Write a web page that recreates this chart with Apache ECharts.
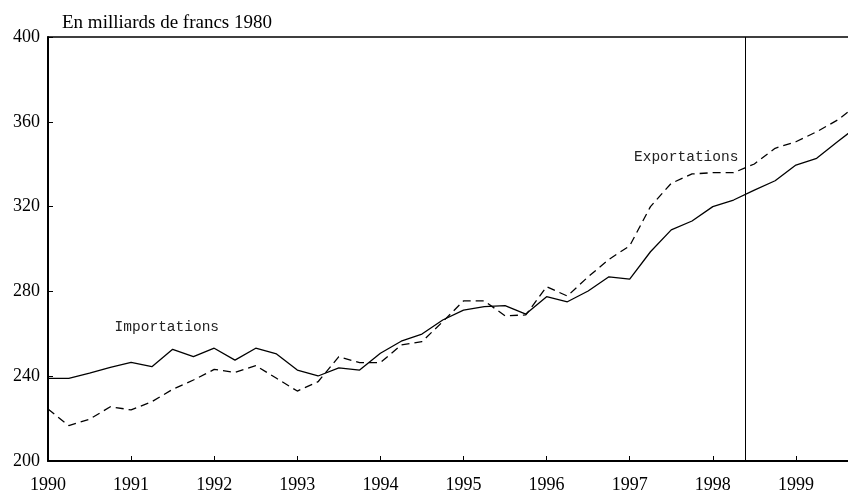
<!DOCTYPE html>
<html>
<head>
<meta charset="utf-8">
<script src="https://cdn.jsdelivr.net/npm/echarts@6/dist/echarts.min.js"></script>
<style>
html,body{margin:0;padding:0;background:#fff;}
#chart{width:848px;height:495px;}
</style>
</head>
<body>
<div id="chart"></div>
<script>
// Quarterly series, first quarter 1990 onward
var startYear = 1990;
var importations = [239.0, 239.0, 241.4, 244.2, 246.5, 244.5, 252.7, 249.2, 253.2, 247.6,
  253.2, 250.5, 242.9, 240.1, 243.9, 242.9, 250.8, 256.5, 259.9, 266.5,
  271.2, 272.8, 273.3, 269.3, 277.5, 275.1, 280.2, 286.9, 285.8, 298.7,
  309.0, 313.2, 320.0, 323.1, 327.8, 332.2, 339.6, 342.8, 350.6, 358.1];
var exportations = [224.5, 216.7, 219.7, 225.6, 224.1, 228.0, 233.8, 238.2, 243.2, 241.8,
  245.0, 239.0, 233.0, 237.4, 249.2, 246.4, 246.4, 254.7, 256.3, 265.7,
  275.5, 275.5, 268.5, 268.9, 282.2, 277.8, 286.9, 295.1, 301.5, 320.0,
  331.0, 335.4, 336.0, 336.0, 340.1, 347.5, 350.6, 355.3, 360.8, 368.3];
var yTicks = [200, 240, 280, 320, 360, 400];
var xTickYears = [1990, 1991, 1992, 1993, 1994, 1995, 1996, 1997, 1998, 1999];
var forecastStart = 1998.39;
var xMax = 1999.627;
var titleText = 'En milliards de francs 1980';
var labelImp = {text: 'Importations', at: [1991.43, 263.3]};
var labelExp = {text: 'Exportations', at: [1997.68, 343.5]};

function toPairs(values) {
  return values.map(function (v, i) { return [startYear + i * 0.25, v]; });
}

var serif = 'Liberation Serif';
var mono = 'Liberation Mono';

var chart = echarts.init(document.getElementById('chart'), null, {renderer: 'canvas'});
chart.setOption({
  animation: false,
  backgroundColor: '#fff',
  title: {
    text: titleText,
    left: 57, top: 9,
    textStyle: {fontFamily: serif, fontSize: 19, fontWeight: 'normal', color: '#000'}
  },
  grid: {left: 48, right: 0, top: 37, bottom: 34, containLabel: false},
  xAxis: [{
    type: 'value', min: startYear, max: xMax, interval: 1,
    axisLine: {show: true, lineStyle: {color: '#000', width: 2}},
    axisTick: {show: true, inside: true, length: 5, lineStyle: {color: '#000', width: 1}},
    axisLabel: {
      fontFamily: serif, fontSize: 18, color: '#000', margin: 15,
      showMaxLabel: false,
      formatter: function (v) { return xTickYears.indexOf(Math.round(v)) >= 0 && Math.abs(v - Math.round(v)) < 1e-6 ? String(Math.round(v)) : ''; }
    },
    splitLine: {show: false}
  }, {
    type: 'value', position: 'top', min: startYear, max: xMax,
    axisLine: {show: true, lineStyle: {color: '#000', width: 1.5}},
    axisTick: {show: false}, axisLabel: {show: false}, splitLine: {show: false}
  }],
  yAxis: {
    type: 'value', min: yTicks[0], max: yTicks[yTicks.length - 1], interval: 40,
    axisLine: {show: true, lineStyle: {color: '#000', width: 2}},
    axisTick: {show: true, inside: true, length: 5, lineStyle: {color: '#000', width: 1}},
    axisLabel: {fontFamily: serif, fontSize: 18, color: '#000', margin: 8},
    splitLine: {show: false}
  },
  series: [{
    name: 'Importations', type: 'line', data: toPairs(importations),
    symbol: 'none', smooth: false, clip: true,
    lineStyle: {color: '#000', width: 1.3, type: 'solid'},
    markLine: {
      silent: true, symbol: 'none', label: {show: false},
      lineStyle: {color: '#000', width: 1, type: 'solid'},
      data: [{xAxis: forecastStart}]
    },
    markPoint: {
      silent: true, symbol: 'circle', symbolSize: 0,
      label: {show: true, position: 'inside', fontFamily: mono, fontSize: 14.5, color: '#222', formatter: '{b}'},
      data: [{name: labelImp.text, coord: labelImp.at}]
    }
  }, {
    name: 'Exportations', type: 'line', data: toPairs(exportations),
    symbol: 'none', smooth: false, clip: true,
    lineStyle: {color: '#000', width: 1.3, type: [8, 5]},
    markPoint: {
      silent: true, symbol: 'circle', symbolSize: 0,
      label: {show: true, position: 'inside', fontFamily: mono, fontSize: 14.5, color: '#222', formatter: '{b}'},
      data: [{name: labelExp.text, coord: labelExp.at}]
    }
  }]
});
</script>
</body>
</html>
